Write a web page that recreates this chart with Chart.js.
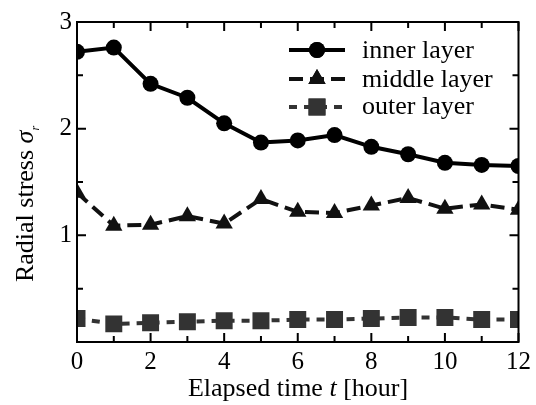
<!DOCTYPE html>
<html>
<head>
<meta charset="utf-8">
<script src="https://cdn.jsdelivr.net/npm/chart.js@4/dist/chart.umd.min.js"></script>
<style>
  html, body { margin: 0; padding: 0; background: #fff; }
  #wrap { width: 536px; height: 405px; }
</style>
</head>
<body>
<div id="wrap"><canvas id="myChart" width="536" height="405"></canvas></div>
<script>
  // DATA
  const hours = [0, 1, 2, 3, 4, 5, 6, 7, 8, 9, 10, 11, 12];
  const innerLayer = [2.72, 2.76, 2.42, 2.29, 2.05, 1.87, 1.89, 1.94, 1.83, 1.76, 1.68, 1.66, 1.65];
  const middleLayer = [1.40, 1.09, 1.10, 1.18, 1.11, 1.34, 1.22, 1.21, 1.28, 1.35, 1.25, 1.29, 1.24];
  const outerLayer = [0.22, 0.17, 0.18, 0.19, 0.20, 0.20, 0.21, 0.21, 0.22, 0.23, 0.23, 0.21, 0.21];
  const seriesNames = ['inner layer', 'middle layer', 'outer layer'];
  const xTickLabels = ['0', '2', '4', '6', '8', '10', '12'];
  const yTickLabels = ['1', '2', '3'];

  const FONT = '"Liberation Serif", "Times New Roman", serif';

  const toPoints = arr => arr.map((v, i) => ({ x: hours[i], y: v }));

  const styles = [
    { color: '#000', point: 'circle', r: 8, dash: [] },
    { color: '#111', point: 'triangle', r: 10, dash: [14, 7] },
    { color: '#333', point: 'rect', r: 12, dash: [8, 7] }
  ];

  const data = {
    datasets: [innerLayer, middleLayer, outerLayer].map((arr, i) => ({
      label: seriesNames[i],
      data: toPoints(arr),
      borderColor: styles[i].color,
      backgroundColor: styles[i].color,
      borderWidth: 4,
      borderDash: styles[i].dash,
      pointStyle: styles[i].point,
      pointRadius: styles[i].r,
      pointBorderWidth: 0,
      pointHoverRadius: styles[i].r,
      showLine: true,
      tension: 0
    }))
  };

  // draws inward ticks, top/right frame, axis titles and the legend with line samples
  const framePlugin = {
    id: 'frame',
    afterDraw(chart) {
      const ctx = chart.ctx;
      const a = chart.chartArea;
      const xs = chart.scales.x, ys = chart.scales.y;
      ctx.save();
      ctx.strokeStyle = '#000';
      ctx.lineWidth = 2;
      ctx.setLineDash([]);
      ctx.strokeRect(a.left, a.top, a.right - a.left, a.bottom - a.top);
      ctx.beginPath();
      for (let t = 0; t <= 12; t++) {
        const p = xs.getPixelForValue(t);
        const len = t % 2 === 0 ? 9 : 6;
        ctx.moveTo(p, a.bottom); ctx.lineTo(p, a.bottom - len);
        ctx.moveTo(p, a.top); ctx.lineTo(p, a.top + len);
      }
      for (let v = 0; v <= 3; v += 0.5) {
        const p = ys.getPixelForValue(v);
        const len = v % 1 === 0 ? 9 : 6;
        ctx.moveTo(a.left, p); ctx.lineTo(a.left + len, p);
        ctx.moveTo(a.right, p); ctx.lineTo(a.right - len, p);
      }
      ctx.stroke();

      // axis titles
      ctx.fillStyle = '#000';
      ctx.textBaseline = 'alphabetic';
      ctx.textAlign = 'left';
      const xt1 = 'Elapsed time ', xt2 = 't', xt3 = ' [hour]';
      ctx.font = '26px ' + FONT; const w1 = ctx.measureText(xt1).width, w3 = ctx.measureText(xt3).width;
      ctx.font = 'italic 26px ' + FONT; const w2 = ctx.measureText(xt2).width;
      let x0 = 298 - (w1 + w2 + w3) / 2;
      const by = 396;
      ctx.font = '26px ' + FONT; ctx.fillText(xt1, x0, by); x0 += w1;
      ctx.font = 'italic 26px ' + FONT; ctx.fillText(xt2, x0, by); x0 += w2;
      ctx.font = '26px ' + FONT; ctx.fillText(xt3, x0, by);

      ctx.save();
      ctx.translate(33, 204);
      ctx.rotate(-Math.PI / 2);
      const yt1 = 'Radial stress ', yt2 = 'σ', yt3 = 'r';
      ctx.font = '26px ' + FONT; const v1 = ctx.measureText(yt1).width;
      ctx.font = 'italic 26px ' + FONT; const v2 = ctx.measureText(yt2).width;
      ctx.font = 'italic 12px ' + FONT; const v3 = ctx.measureText(yt3).width;
      let y0 = -(v1 + v2 + v3) / 2;
      ctx.font = '26px ' + FONT; ctx.fillText(yt1, y0, 0); y0 += v1;
      ctx.font = 'italic 26px ' + FONT; ctx.fillText(yt2, y0, 0); y0 += v2;
      ctx.font = 'italic 12px ' + FONT; ctx.fillText(yt3, y0, 6);
      ctx.restore();

      // legend
      const rows = [50, 79, 107];
      const baselines = [58, 87, 114];
      ctx.font = '26px ' + FONT;
      chart.data.datasets.forEach((ds, i) => {
        const st = styles[i];
        const y = rows[i];
        ctx.strokeStyle = st.color;
        ctx.fillStyle = st.color;
        ctx.lineWidth = 4;
        ctx.setLineDash(st.dash);
        ctx.beginPath();
        ctx.moveTo(289, y); ctx.lineTo(345, y);
        ctx.stroke();
        ctx.setLineDash([]);
        Chart.helpers.drawPoint(ctx, { pointStyle: st.point, radius: st.r, borderWidth: 0 }, 317, y);
        ctx.fill();
        ctx.fillStyle = '#000';
        ctx.fillText(ds.label, 362, baselines[i]);
      });
      ctx.restore();
    }
  };

  const config = {
    type: 'scatter',
    data,
    options: {
      responsive: false,
      animation: false,
      layout: { padding: { top: 22, right: 12, left: 0, bottom: 0 } },
      plugins: { legend: { display: false }, tooltip: { enabled: false } },
      scales: {
        x: {
          type: 'linear', min: 0, max: 12,
          grid: { display: false, drawTicks: false },
          border: { display: false },
          afterFit: s => { s.height = 63; },
          ticks: {
            stepSize: 2, padding: 5, color: '#000',
            font: { family: FONT, size: 25 },
            callback: v => xTickLabels.includes(String(v)) ? String(v) : ''
          }
        },
        y: {
          type: 'linear', min: 0, max: 3,
          grid: { display: false, drawTicks: false },
          border: { display: false },
          afterFit: s => { s.width = 77; },
          ticks: {
            stepSize: 1, padding: 5, color: '#000',
            font: { family: FONT, size: 25 },
            callback: v => yTickLabels.includes(String(v)) ? String(v) : ''
          }
        }
      }
    },
    plugins: [framePlugin]
  };

  var myChart = new Chart(document.getElementById('myChart'), config);
</script>
</body>
</html>
